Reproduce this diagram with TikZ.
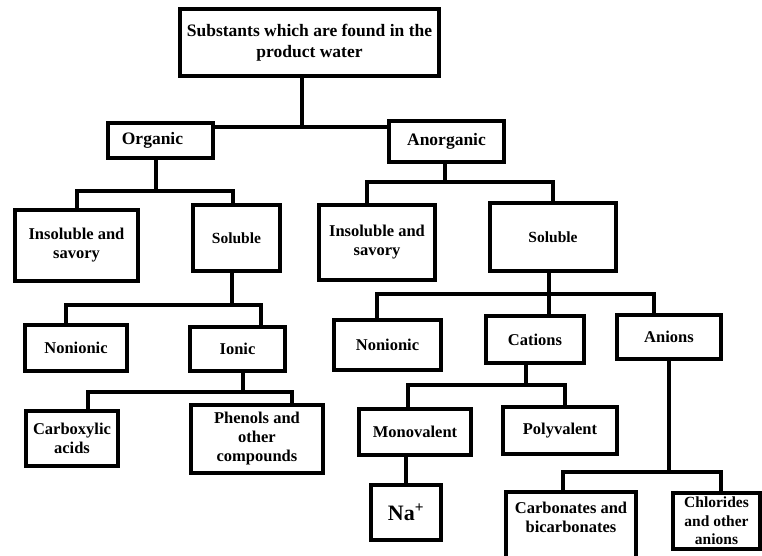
\documentclass[tikz,border=0pt]{standalone}
\usepackage{fontspec}
\setmainfont{Liberation Serif}
\usepackage{tikz}
\usetikzlibrary{calc}
\tikzset{
	box/.style={draw=black, line width=4pt, rectangle, inner sep=0pt, align=center, font=\fontsize{16.5}{19}\selectfont\bfseries},
	link/.style={draw=black, line width=4pt}
}

\begin{document}
\begin{tikzpicture}[x=1pt, y=-1pt]
			%%%%% START %%%%%
			
			\clip (0, 0) rectangle (762, 556);
			\fill[white] (0, 0) rectangle (762, 556);
			
			\node[box, minimum width=259pt, minimum height=67pt, font=\fontsize{17.5}{21}\selectfont\bfseries] (top) at (309.5, 42.5) {Substants which are found in the\\product water};
			
			\node[box, minimum width=105pt, minimum height=35pt, font=\fontsize{17.5}{21}\selectfont\bfseries] (org) at (160.5, 140.5) {Organic\kern16pt};
			\node[box, minimum width=115pt, minimum height=41pt, font=\fontsize{17.5}{21}\selectfont\bfseries] (anorg) at (446.5, 141.5) {Anorganic};
			
			\node[box, minimum width=123pt, minimum height=71pt] (insL) at (76.5, 245.5) {Insoluble and\\savory};
			\node[box, minimum width=87pt, minimum height=66pt, font=\fontsize{15.5}{19}\selectfont\bfseries] (solL) at (236.5, 238) {Soluble};
			\node[box, minimum width=116pt, minimum height=75pt] (insR) at (377, 242.5) {Insoluble and\\savory};
			\node[box, minimum width=126pt, minimum height=68pt, font=\fontsize{15.5}{19}\selectfont\bfseries] (solR) at (553, 237) {Soluble};
			
			\node[box, minimum width=102pt, minimum height=46pt] (nonL) at (76, 348) {Nonionic};
			\node[box, minimum width=95pt, minimum height=44pt] (ionic) at (237.5, 349) {Ionic};
			\node[box, minimum width=107pt, minimum height=50pt] (nonR) at (387.5, 345) {Nonionic};
			\node[box, minimum width=98pt, minimum height=47pt] (cat) at (535, 339.5) {Cations};
			\node[box, minimum width=104pt, minimum height=44pt] (anion) at (669, 337) {Anions};
			
			\node[box, minimum width=92pt, minimum height=55pt] (carb) at (72, 438.5) {Carboxylic\\acids};
			\node[box, minimum width=132pt, minimum height=68pt] (phen) at (257, 439) {Phenols and\\other\\compounds};
			\node[box, minimum width=112pt, minimum height=46pt] (mono) at (415, 432) {Monovalent};
			\node[box, minimum width=114pt, minimum height=47pt] (poly) at (560, 430.5) {Polyvalent};
			
			\node[box, minimum width=70pt, minimum height=55pt, font=\fontsize{22}{26}\selectfont\bfseries] (na) at (406, 512.5) {Na\textsuperscript{+}};
			\node[box, minimum width=130pt, anchor=north, inner ysep=10pt] (carbo) at (571, 490) {Carbonates and\\bicarbonates\rule[-60pt]{0pt}{0pt}};
			\node[box, minimum width=87pt, minimum height=56pt, font=\fontsize{15.5}{18.5}\selectfont\bfseries] (chlor) at (716.5, 521) {Chlorides\\and other\\anions};
			
			% connectors
			\coordinate (j0) at (302, 127);
			\draw[link] (j0 |- top.south) -- (j0);
			\draw[link] (org.east |- j0) -- (anorg.west |- j0);
			
			\coordinate (j1) at (156, 191);
			\draw[link] (j1 |- org.south) -- (j1);
			\draw[link] (insL.north) |- (j1) -| ([xshift=-4pt]solL.north);
			
			\coordinate (j2) at (445, 182);
			\draw[link] (j2 |- anorg.south) -- (j2);
			\draw[link] ([xshift=-10pt]insR.north) |- (j2) -| (solR.north);
			
			\coordinate (j3) at (232, 305);
			\draw[link] (j3 |- solL.south) -- (j3);
			\draw[link] ([xshift=-10pt]nonL.north) |- (j3) -| ([xshift=23pt]ionic.north);
			
			\coordinate (j4) at (243, 392);
			\draw[link] (j4 |- ionic.south) -- (j4);
			\draw[link] ([xshift=16pt]carb.north) |- (j4) -| ([xshift=35pt]phen.north);
			
			\coordinate (j5) at (549, 294);
			\draw[link] (j5 |- solR.south) -- (j5 |- cat.north);
			\draw[link] ([xshift=-11pt]nonR.north) |- (j5) -| ([xshift=-15pt]anion.north);
			
			\coordinate (j6) at (526, 385);
			\draw[link] (j6 |- cat.south) -- (j6);
			\draw[link] ([xshift=-7pt]mono.north) |- (j6) -| ([xshift=5pt]poly.north);
			
			\draw[link] (na.north |- mono.south) -- (na.north);
			
			\coordinate (j7) at (669, 472);
			\draw[link] (anion.south) -- (j7);
			\draw[link] ([xshift=-8pt]carbo.north) |- (j7) -| ([xshift=4pt]chlor.north);
			
			%%%%% END %%%%%
\end{tikzpicture}
\end{document}
